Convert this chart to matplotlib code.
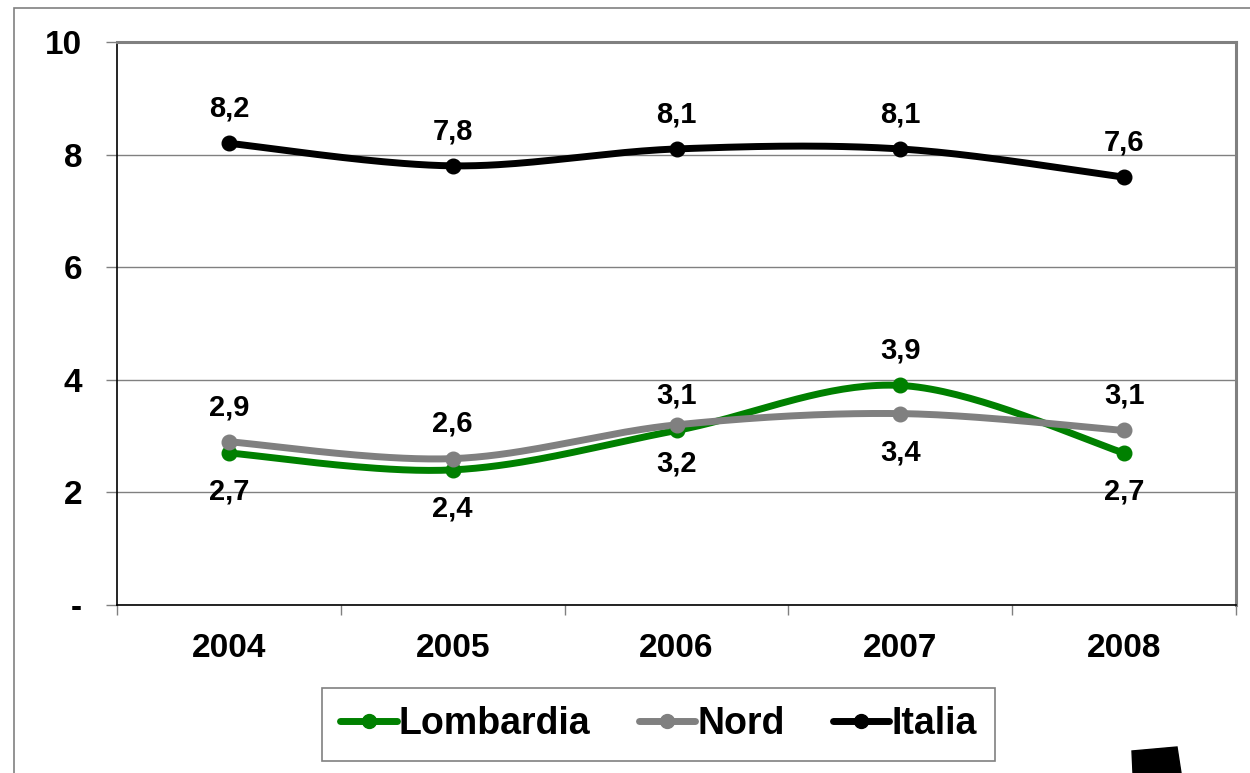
import numpy as np
import matplotlib.pyplot as plt
from matplotlib.patches import Rectangle, Polygon

years = ["2004", "2005", "2006", "2007", "2008"]
lombardia = [2.7, 2.4, 3.1, 3.9, 2.7]
nord = [2.9, 2.6, 3.2, 3.4, 3.1]
italia = [8.2, 7.8, 8.1, 8.1, 7.6]

# where the value label goes: +1 above the point, -1 below
side_lombardia = [-1, -1, 1, 1, -1]
side_nord = [1, 1, -1, -1, 1]
side_italia = [1, 1, 1, 1, 1]

plt.rcParams['font.family'] = ['Liberation Sans', 'DejaVu Sans']
plt.rcParams['font.weight'] = 'bold'


def smooth(xs, ys, n=40):
    # Excel-like smoothed line: cubic bezier with catmull-rom control points
    xs = np.asarray(xs, float)
    ys = np.asarray(ys, float)
    px = np.concatenate([[xs[0]], xs, [xs[-1]]])
    py = np.concatenate([[ys[0]], ys, [ys[-1]]])
    outx, outy = [], []
    t = np.linspace(0, 1, n)
    for i in range(1, len(px) - 2):
        p0 = np.array([px[i], py[i]])
        p3 = np.array([px[i + 1], py[i + 1]])
        p1 = p0 + (np.array([px[i + 1], py[i + 1]]) - np.array([px[i - 1], py[i - 1]])) / 6
        p2 = p3 - (np.array([px[i + 2], py[i + 2]]) - np.array([px[i], py[i]])) / 6
        b = ((1 - t) ** 3)[:, None] * p0 + (3 * (1 - t) ** 2 * t)[:, None] * p1 \
            + (3 * (1 - t) * t ** 2)[:, None] * p2 + (t ** 3)[:, None] * p3
        outx.extend(b[:, 0])
        outy.extend(b[:, 1])
    return outx, outy


fig = plt.figure(figsize=(12.5, 7.73), dpi=100)
ax = fig.add_axes([0.0936, 0.2173, 0.8952, 0.7284])

x = np.arange(len(years))
series = [
    ("Lombardia", lombardia, side_lombardia, "#008000"),
    ("Nord", nord, side_nord, "#808080"),
    ("Italia", italia, side_italia, "#000000"),
]
for name, vals, sides, col in series:
    sx, sy = smooth(x, vals)
    ax.plot(sx, sy, color=col, lw=5, solid_capstyle="round", zorder=3)
    ax.plot(x, vals, "o", color=col, ms=10.5, zorder=4)
    ax.plot([], [], color=col, lw=5, marker="o", ms=10,
            solid_capstyle="round", label=name)
    for xi, v, s in zip(x, vals, sides):
        off = 25 if s > 0 else -28
        ax.annotate(f"{v:.1f}".replace(".", ","), (xi, v),
                    xytext=(0, off), textcoords="offset points",
                    ha="center", va="center", fontsize=21, fontweight="bold")

ax.set_xlim(-0.5, 4.5)
ax.set_ylim(0, 10)
ax.set_yticks([0, 2, 4, 6, 8, 10])
ax.set_yticklabels(["-", "2", "4", "6", "8", "10"])
ax.set_xticks(x)
ax.set_xticklabels(years)
ax.set_xticks(np.arange(-0.5, 5, 1), minor=True)
ax.tick_params(axis="x", which="major", length=0, pad=20, labelsize=24)
ax.tick_params(axis="x", which="minor", length=7, width=1, color="#808080",
               direction="out")
ax.tick_params(axis="y", length=8, width=1, color="#808080", pad=17,
               labelsize=24)
ax.grid(axis="y", color="#808080", lw=1)
ax.set_axisbelow(True)
ax.spines["left"].set_color("black")
ax.spines["bottom"].set_color("black")
ax.spines["left"].set_linewidth(1.2)
ax.spines["bottom"].set_linewidth(1.2)
ax.spines["top"].set_color("#808080")
ax.spines["right"].set_color("#808080")
ax.spines["top"].set_linewidth(2.2)
ax.spines["right"].set_linewidth(2.2)

leg = fig.legend(loc="center", bbox_to_anchor=(658.5 / 1250, 1 - 724.5 / 773),
                 ncol=3, handlelength=1.5, handletextpad=0.05,
                 columnspacing=1.3, fancybox=False, framealpha=1,
                 edgecolor="#808080", borderpad=0.5, borderaxespad=0,
                 prop={"weight": "bold", "size": 27})
leg.get_frame().set_linewidth(1.2)

# outer chart frame and stray shape at the bottom edge
fig.patches.append(Rectangle((14 / 1250, -0.1), 1.1, 1.1 - 8 / 773,
                             transform=fig.transFigure, fill=False,
                             edgecolor="#808080", lw=1.2))
fig.patches.append(Polygon([(1132 / 1250, 1 - 751 / 773), (1177 / 1250, 1 - 747 / 773),
                            (1181 / 1250, 0), (1133 / 1250, 0)],
                           closed=True, transform=fig.transFigure,
                           facecolor="black", edgecolor="black"))

fig.savefig("out.png", dpi=100)
